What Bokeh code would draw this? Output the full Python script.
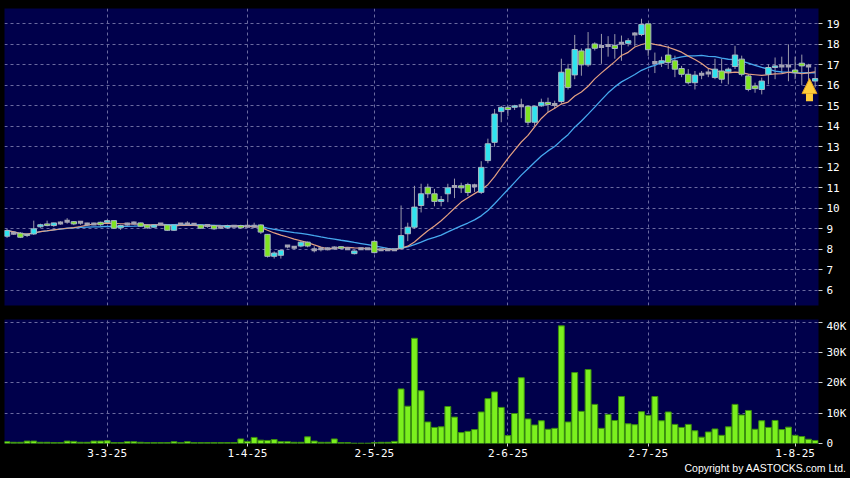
import pandas as pd
from bokeh.plotting import figure
from bokeh.layouts import column
from bokeh.models import Range1d, FixedTicker, Title, Arrow, NormalHead, ColumnDataSource
from bokeh.embed import file_html
from bokeh.resources import INLINE

# ---------------- data ----------------
opens = [8.64, 8.79, 8.79, 8.72, 8.75, 9.10, 9.24, 9.16, 9.29, 9.37,
         9.35, 9.32, 9.24, 9.24, 9.32, 9.32, 9.40, 9.05, 9.24, 9.29,
         9.29, 9.19, 9.08, 9.24, 9.19, 8.93, 9.24, 9.24, 9.22, 9.19,
         9.16, 9.16, 9.08, 9.05, 9.13, 9.16, 9.13, 9.13, 9.19, 8.73,
         7.66, 7.71, 8.16, 8.10, 8.16, 8.35, 7.98, 8.03, 8.03, 8.06,
         8.13, 8.03, 7.79, 8.03, 8.03, 8.39, 7.98, 7.98, 7.98, 8.05,
         8.76, 9.08, 10.14, 11.03, 10.71, 10.34, 10.71, 11.06, 11.10, 11.16,
         11.10, 10.78, 12.33, 13.22, 14.72, 14.93, 14.93, 15.00, 14.98, 14.20,
         15.00, 15.17, 15.07, 15.21, 16.80, 16.51, 17.68, 17.00, 18.02, 17.89,
         17.95, 17.95, 18.05, 18.05, 18.50, 18.48, 19.00, 17.11, 17.08, 17.48,
         17.20, 16.82, 16.54, 16.13, 16.54, 16.60, 16.38, 16.70, 16.66, 16.92,
         17.28, 16.46, 15.97, 15.80, 16.54, 16.87, 16.95, 16.95, 16.75, 17.08,
         16.95, 16.21]
highs = [9.00, 8.85, 8.84, 8.78, 9.40, 9.25, 9.40, 9.30, 9.37, 9.52,
         9.38, 9.35, 9.30, 9.30, 9.35, 9.45, 9.42, 9.20, 9.30, 9.36,
         9.30, 9.22, 9.22, 9.28, 9.22, 9.22, 9.28, 9.37, 9.26, 9.22,
         9.20, 9.20, 9.12, 9.20, 9.18, 9.20, 9.40, 9.30, 9.22, 8.75,
         7.90, 8.00, 8.20, 8.15, 8.40, 8.38, 8.15, 8.10, 8.10, 8.15,
         8.16, 8.08, 7.95, 8.06, 8.06, 8.45, 8.03, 8.00, 8.02, 10.14,
         9.30, 11.10, 11.20, 11.20, 10.95, 10.60, 11.20, 11.45, 11.25, 11.25,
         11.20, 12.30, 13.40, 14.85, 15.00, 15.00, 15.05, 15.35, 15.00, 15.00,
         15.35, 15.40, 15.25, 17.30, 17.05, 18.46, 17.80, 18.60, 18.10, 18.51,
         18.40, 18.50, 18.43, 18.30, 18.60, 19.25, 19.00, 17.60, 17.40, 17.93,
         17.45, 16.95, 16.79, 16.70, 16.70, 16.80, 17.30, 17.30, 16.87, 17.93,
         17.45, 16.54, 16.13, 16.38, 17.03, 17.36, 17.40, 18.00, 17.40, 17.50,
         17.05, 16.90]
lows = [8.56, 8.70, 8.55, 8.60, 8.70, 9.05, 9.12, 9.10, 9.20, 9.25,
        9.18, 9.20, 9.15, 9.18, 9.15, 9.28, 9.00, 8.95, 9.15, 9.20,
        9.10, 9.00, 9.05, 9.18, 8.90, 8.90, 9.20, 9.20, 9.18, 9.00,
        9.05, 8.95, 9.00, 9.00, 9.08, 9.00, 9.05, 9.05, 8.75, 7.60,
        7.55, 7.55, 8.05, 8.00, 8.10, 8.10, 7.85, 7.90, 7.95, 7.98,
        8.00, 7.98, 7.75, 7.98, 7.98, 7.80, 7.92, 7.95, 7.92, 7.99,
        8.40, 9.00, 9.80, 10.50, 10.10, 10.10, 10.30, 10.50, 10.75, 10.60,
        10.80, 10.70, 12.20, 13.00, 14.20, 14.50, 14.80, 14.40, 14.05, 14.00,
        14.95, 14.70, 14.85, 15.10, 15.80, 16.30, 16.47, 16.90, 17.70, 17.05,
        17.40, 17.30, 17.20, 17.90, 17.90, 18.40, 17.44, 16.60, 16.90, 16.80,
        16.40, 16.40, 16.05, 15.80, 16.30, 16.40, 16.30, 16.10, 16.05, 16.80,
        16.44, 15.71, 15.64, 15.56, 16.05, 16.30, 16.60, 16.20, 16.30, 16.00,
        16.00, 15.90]
closes = [8.92, 8.79, 8.59, 8.68, 9.00, 9.20, 9.16, 9.29, 9.29, 9.37,
          9.24, 9.32, 9.24, 9.24, 9.20, 9.40, 9.03, 9.16, 9.24, 9.29,
          9.13, 9.05, 9.19, 9.24, 8.93, 9.19, 9.24, 9.24, 9.22, 9.03,
          9.16, 9.00, 9.08, 9.16, 9.13, 9.05, 9.13, 9.13, 8.84, 7.66,
          7.82, 7.95, 8.16, 8.10, 8.35, 8.16, 7.98, 8.03, 8.03, 8.06,
          8.05, 8.03, 7.92, 8.03, 8.03, 7.84, 7.98, 7.98, 7.98, 8.67,
          9.08, 10.06, 10.71, 10.71, 10.34, 10.43, 11.00, 11.06, 11.00, 10.77,
          11.10, 12.00, 13.15, 14.60, 14.93, 14.82, 15.00, 15.00, 14.20, 14.98,
          15.17, 15.07, 15.07, 16.64, 15.90, 17.75, 17.00, 17.78, 17.81, 17.89,
          17.95, 17.80, 18.05, 18.18, 18.50, 18.97, 17.74, 17.11, 17.20, 17.11,
          16.79, 16.54, 16.13, 16.50, 16.54, 16.60, 16.79, 16.30, 16.79, 17.48,
          16.54, 15.80, 15.84, 16.21, 16.87, 16.95, 16.95, 16.95, 16.62, 16.95,
          16.95, 16.33]
volume_k = [0.6, 0.4, 0.4, 0.8, 0.8, 0.4, 0.4, 0.3, 0.3, 0.8,
            0.7, 0.4, 0.4, 0.8, 0.8, 0.9, 0.3, 0.3, 0.6, 0.6,
            0.4, 0.3, 0.3, 0.3, 0.3, 0.6, 0.3, 0.6, 0.3, 0.3,
            0.3, 0.3, 0.3, 0.3, 0.3, 1.5, 0.7, 2.0, 1.1, 1.0,
            1.3, 0.6, 0.6, 0.4, 0.4, 2.2, 0.8, 0.4, 0.4, 1.5,
            0.3, 0.3, 0.1, 0.1, 0.1, 0.3, 0.4, 0.4, 0.7, 18.0,
            12.3, 34.7, 17.4, 7.1, 5.3, 5.5, 12.2, 8.7, 3.6, 4.0,
            4.6, 10.4, 14.8, 17.0, 11.9, 2.6, 9.9, 21.7, 8.1, 6.1,
            7.5, 4.7, 5.0, 38.8, 7.1, 23.4, 10.6, 24.4, 12.9, 5.0,
            9.6, 7.6, 15.5, 6.5, 6.2, 10.5, 9.3, 15.5, 7.5, 10.4,
            6.3, 5.3, 6.3, 4.2, 2.1, 3.8, 4.8, 2.7, 5.5, 12.9,
            9.4, 10.9, 4.7, 7.5, 5.3, 7.6, 4.6, 5.4, 2.7, 2.3,
            1.4, 1.0]

tick_days = [15, 36, 55, 75, 96, 118]
tick_labels = ["3-3-25", "1-4-25", "2-5-25", "2-6-25", "2-7-25", "1-8-25"]
price_ticks = list(range(6, 20))
vol_ticks = [0, 10, 20, 30, 40]
vol_tick_labels = ["0", "10K", "20K", "30K", "40K"]
ma_fast_n = 10
ma_slow_n = 20

# ---------------- styles ----------------
BG = "#000000"
PANEL = "#00004b"
GRID = "#6a6aa0"
UP = "#2fe3ef"
DOWN = "#80e322"
FLAT = "#a4a4b4"
WICK = "#9a9aaa"
EDGE = "#a8b8c4"
MA_FAST = "#e4a082"
MA_SLOW = "#46a8ee"
VOL_FILL = "#7bf01e"
VOL_EDGE = "#3b8f0e"
TICK_FONT = "DejaVu Sans Mono"
NOTE_FONT = "Liberation Sans"

df = pd.DataFrame({"o": opens, "h": highs, "l": lows, "c": closes, "v": volume_k})
df["x"] = range(len(df))
df["ma_fast"] = df["c"].rolling(ma_fast_n, min_periods=1).mean()
df["ma_slow"] = df["c"].rolling(ma_slow_n, min_periods=1).mean()
up = df[df.c > df.o]
dn = df[df.c < df.o]
fl = df[df.c == df.o]

xr = Range1d(-0.38, len(df) - 0.5)

p1 = figure(frame_width=814, frame_height=297, x_range=xr, y_range=Range1d(5.26, 19.75),
            output_backend="svg", toolbar_location=None, title=None,
            x_axis_location="below", y_axis_location="right",
            min_border_left=4, min_border_top=8, min_border_bottom=14, min_border_right=0,
            background_fill_color=PANEL, border_fill_color=BG, outline_line_color=None)
p1.xaxis.visible = False
p1.xaxis.ticker = FixedTicker(ticks=tick_days)
p1.xgrid.ticker = FixedTicker(ticks=tick_days)
p1.yaxis.ticker = FixedTicker(ticks=price_ticks)
p1.ygrid.ticker = FixedTicker(ticks=price_ticks)
for g in (p1.xgrid, p1.ygrid):
    g.grid_line_color = GRID
    g.grid_line_dash = "3 3"
    g.grid_line_width = 1

p1.segment(x0="x", y0="l", x1="x", y1="h", source=ColumnDataSource(df), line_color=WICK, line_width=1)
p1.line(x="x", y="ma_slow", source=ColumnDataSource(df), line_color=MA_SLOW, line_width=1.3)
p1.line(x="x", y="ma_fast", source=ColumnDataSource(df), line_color=MA_FAST, line_width=1.2)
p1.vbar(x="x", width=0.8, top="c", bottom="o", source=ColumnDataSource(up),
        fill_color=UP, line_color=EDGE, line_width=1)
p1.vbar(x="x", width=0.8, top="o", bottom="c", source=ColumnDataSource(dn),
        fill_color=DOWN, line_color=EDGE, line_width=1)
p1.rect(x="x", y="c", width=0.8, height=3, height_units="screen", source=ColumnDataSource(fl),
        fill_color=FLAT, line_color=None)

# yellow arrow under the latest bar
arrow_x = df.x.iloc[-1] - 0.85
arrow_tip = df.c.iloc[-1]
p1.add_layout(Arrow(end=NormalHead(size=15, fill_color="#ffcc3a", line_color="#d89a20", line_width=1),
                    x_start=arrow_x, y_start=arrow_tip - 1.1, x_end=arrow_x, y_end=arrow_tip,
                    line_color="#ffcc3a", line_width=7))

p2 = figure(frame_width=814, frame_height=124, x_range=xr, y_range=Range1d(0, 40.9),
            output_backend="svg", toolbar_location=None, title=None,
            y_axis_location="right",
            min_border_left=4, min_border_top=0, min_border_bottom=35, min_border_right=0,
            background_fill_color=PANEL, border_fill_color=BG, outline_line_color=None)
p2.vbar(x="x", width=0.88, top="v", bottom=0, source=ColumnDataSource(df),
        fill_color=VOL_FILL, line_color=VOL_EDGE, line_width=1)
p2.xaxis.ticker = FixedTicker(ticks=tick_days)
p2.xaxis.major_label_overrides = {d: t for d, t in zip(tick_days, tick_labels)}
p2.yaxis.ticker = FixedTicker(ticks=vol_ticks)
p2.yaxis.major_label_overrides = {v: t for v, t in zip(vol_ticks, vol_tick_labels)}
for g in (p2.xgrid, p2.ygrid):
    g.grid_line_color = GRID
    g.grid_line_dash = "3 3"
    g.grid_line_width = 1

for fig in (p1, p2):
    for ax in fig.axis:
        ax.axis_line_color = None
        ax.major_tick_line_color = "#d0d0d0"
        ax.major_tick_out = 4
        ax.major_tick_in = 0
        ax.minor_tick_line_color = None
        ax.major_label_text_color = "#ffffff"
        ax.major_label_text_font = TICK_FONT
        ax.major_label_text_font_size = "11px"
        ax.major_label_standoff = 4
p2.xaxis.major_tick_out = 3
p2.xaxis.major_label_standoff = 2

p2.add_layout(Title(text="Copyright by AASTOCKS.com Ltd.", align="right", offset=-28,
                    text_color="#ffffff", text_font=NOTE_FONT, text_font_size="10.5px",
                    text_font_style="normal", standoff=0), "below")

layout = column(p1, p2, spacing=0, styles={"background-color": BG})
html = file_html(layout, INLINE, title="chart")
html = html.replace("<head>", "<head>\n<style>html,body{background:#000000;}</style>", 1)
open("out.html", "w").write(html)
